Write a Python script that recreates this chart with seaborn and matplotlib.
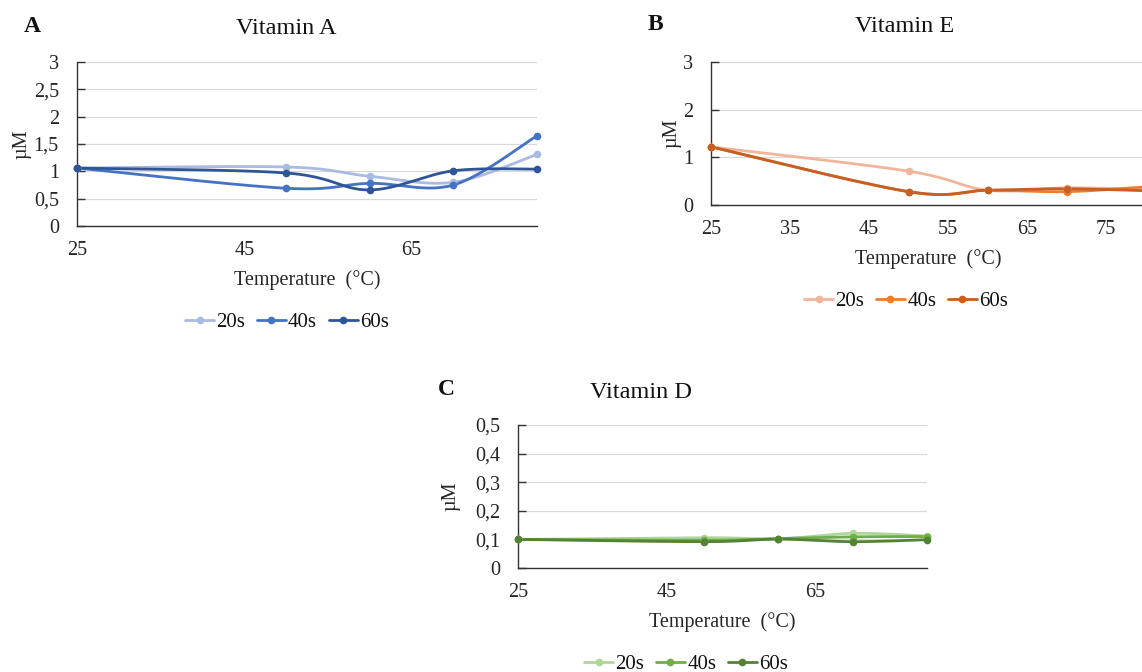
import numpy as np
import pandas as pd
import matplotlib
matplotlib.use("Agg")
import matplotlib.pyplot as plt
from matplotlib.lines import Line2D
import seaborn as sns

# ---------------- data ----------------
temperatures = [25, 50, 60, 70, 80]
series_names = ["20s", "40s", "60s"]

vitA_20s = [1.06, 1.08, 0.91, 0.80, 1.31]
vitA_40s = [1.06, 0.69, 0.78, 0.75, 1.65]
vitA_60s = [1.06, 0.97, 0.66, 1.01, 1.04]

vitE_20s = [1.22, 0.71, 0.31, 0.36, 0.33]
vitE_40s = [1.22, 0.28, 0.31, 0.28, 0.38]
vitE_60s = [1.22, 0.28, 0.31, 0.34, 0.30]

vitD_20s = [0.100, 0.106, 0.102, 0.121, 0.112]
vitD_40s = [0.100, 0.097, 0.103, 0.109, 0.110]
vitD_60s = [0.100, 0.092, 0.101, 0.092, 0.099]

A_yticks = [0, 0.5, 1, 1.5, 2, 2.5, 3]
A_yticklabels = ["0", "0,5", "1", "1,5", "2", "2,5", "3"]
E_yticks = [0, 1, 2, 3]
E_yticklabels = ["0", "1", "2", "3"]
D_yticks = [0, 0.1, 0.2, 0.3, 0.4, 0.5]
D_yticklabels = ["0", "0,1", "0,2", "0,3", "0,4", "0,5"]
A_xticks = [25, 45, 65]
E_xticks = [25, 35, 45, 55, 65, 75]
D_xticks = [25, 45, 65]

blues = ["#A9BBE2", "#4472C4", "#2F5597"]
oranges = ["#F3B49C", "#ED7D31", "#C65F24"]
greens = ["#B0D69A", "#70AD47", "#548235"]

# ---------------- style ----------------
sns.set_theme(style="white")
plt.rcParams["font.family"] = ["Liberation Serif", "DejaVu Serif"]
plt.rcParams["text.color"] = "#111111"

W, H = 1142, 672
fig = plt.figure(figsize=(W / 100, H / 100), dpi=100)


def px_axes(left, right, top, bottom):
    return fig.add_axes([left / W, 1 - bottom / H, (right - left) / W, (bottom - top) / H])


def excel_smooth(x, y, n=40):
    pts = np.column_stack([np.asarray(x, float), np.asarray(y, float)])
    xs, ys = [], []
    t = np.linspace(0, 1, n)[:, None]
    for i in range(len(pts) - 1):
        p0 = pts[i - 1] if i > 0 else pts[i]
        p1, p2 = pts[i], pts[i + 1]
        p3 = pts[i + 2] if i + 2 < len(pts) else pts[i + 1]
        c1 = p1 + (p2 - p0) / 6.0
        c2 = p2 - (p3 - p1) / 6.0
        b = ((1 - t) ** 3) * p1 + 3 * ((1 - t) ** 2) * t * c1 + 3 * (1 - t) * t ** 2 * c2 + t ** 3 * p2
        if i > 0:
            b = b[1:]
        xs.extend(b[:, 0]); ys.extend(b[:, 1])
    return np.array(xs), np.array(ys)


LW = 2.0
MS = 4.5


def draw_panel(ax, series, colors, xlim, xticks, ylim, yticks, yticklabels,
               ylabel_x, xlabel_y):
    curve_rows = []
    point_rows = []
    for name, vals in zip(series_names, series):
        sx, sy = excel_smooth(temperatures, vals)
        for a, b in zip(sx, sy):
            curve_rows.append({"x": a, "y": b, "series": name})
        for a, b in zip(temperatures, vals):
            point_rows.append({"x": a, "y": b, "series": name})
    curves = pd.DataFrame(curve_rows)
    points = pd.DataFrame(point_rows)
    pal = dict(zip(series_names, colors))
    sns.lineplot(data=curves, x="x", y="y", hue="series", palette=pal, sort=False,
                 estimator=None, linewidth=LW, legend=False, ax=ax, zorder=3,
                 solid_capstyle="round")
    for name in series_names:
        sub = points[points["series"] == name]
        ax.plot(sub["x"], sub["y"], linestyle="none", marker="o", markersize=MS,
                color=pal[name], zorder=4, clip_on=False)
    ax.set_xlim(*xlim)
    ax.set_ylim(*ylim)
    ax.set_xticks(xticks)
    ax.set_xticklabels([str(v) for v in xticks])
    ax.set_yticks(yticks)
    ax.set_yticklabels(yticklabels)
    ax.grid(axis="y", color="#D9D9D9", linewidth=0.9)
    ax.grid(axis="x", visible=False)
    ax.set_axisbelow(True)
    for s in ["top", "right"]:
        ax.spines[s].set_visible(False)
    for s in ["left", "bottom"]:
        ax.spines[s].set_color("#333333")
        ax.spines[s].set_linewidth(1.0)
    ax.tick_params(axis="y", direction="in", length=6, width=1, color="#333333",
                   pad=13, labelsize=14.6, left=True)
    ax.tick_params(axis="x", length=0, pad=11, labelsize=14.6, bottom=True)
    ax.set_xlabel("Temperature  (°C)", fontsize=14.5)
    ax.set_ylabel("µM", fontsize=14.5)
    ax.xaxis.set_label_coords(0.5, xlabel_y)
    ax.xaxis.label.set_va("center")
    ax.yaxis.set_label_coords(ylabel_x, 0.5)
    ax.yaxis.label.set_va("center")
    ax.set_facecolor("white")


def add_legend(colors, cx, cy):
    handles = [Line2D([0], [0], color=c, lw=LW, marker="o", markersize=MS) for c in colors]
    fig.legend(handles, series_names, loc="center", bbox_to_anchor=(cx / W, 1 - cy / H),
               ncol=3, frameon=False, fontsize=15, handlelength=1.4,
               handletextpad=0.1, columnspacing=0.55, numpoints=1, borderpad=0)


# Panel A
axA = px_axes(77, 537, 62, 226)
draw_panel(axA, [vitA_20s, vitA_40s, vitA_60s], blues, (25, 80), A_xticks,
           (0, 3), A_yticks, A_yticklabels, ylabel_x=(22 - 77) / 460,
           xlabel_y=(226 - 280) / 164)
add_legend(blues, 287, 322)
fig.text(32 / W, 1 - 27 / H, "A", fontsize=17, fontweight="bold", ha="center", va="center")
fig.text(286 / W, 1 - 29 / H, "Vitamin A", fontsize=17.5, ha="center", va="center")

# Panel B
axB = px_axes(711, 1145.5, 62, 205)
draw_panel(axB, [vitE_20s, vitE_40s, vitE_60s], oranges, (25, 80), E_xticks,
           (0, 3), E_yticks, E_yticklabels, ylabel_x=(672 - 711) / 434.5,
           xlabel_y=(205 - 259) / 143)
add_legend(oranges, 906, 301)
fig.text(655 / W, 1 - 24 / H, "B", fontsize=17, fontweight="bold", ha="center", va="center")
fig.text(905 / W, 1 - 27 / H, "Vitamin E", fontsize=17.5, ha="center", va="center")

# Panel C
axC = px_axes(518, 927, 425, 568)
draw_panel(axC, [vitD_20s, vitD_40s, vitD_60s], greens, (25, 80), D_xticks,
           (0, 0.5), D_yticks, D_yticklabels, ylabel_x=(451 - 518) / 409,
           xlabel_y=(568 - 622) / 143)
add_legend(greens, 686, 664)
fig.text(446 / W, 1 - 389 / H, "C", fontsize=17, fontweight="bold", ha="center", va="center")
fig.text(641 / W, 1 - 393 / H, "Vitamin D", fontsize=17.5, ha="center", va="center")

fig.savefig("out.png", dpi=100, facecolor="white")
